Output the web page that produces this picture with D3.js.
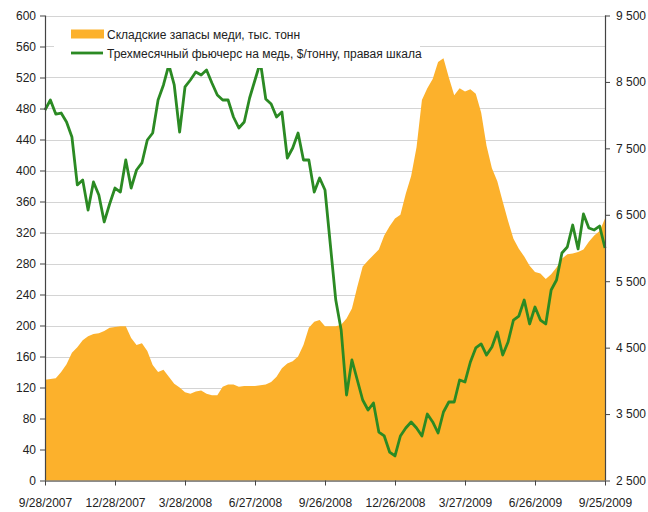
<!DOCTYPE html>
<html>
<head>
<meta charset="utf-8">
<script src="https://cdn.jsdelivr.net/npm/d3@7"></script>
<style>
  body { margin: 0; background: #fff; }
  svg { font-family: "Liberation Sans", Arial, sans-serif; }
</style>
</head>
<body>
<svg id="chart" width="648" height="512"></svg>
<script>
// weekly observations, first one on 9/28/2007
const startDate = new Date(2007, 8, 28);

// warehouse copper stocks, thousand tonnes (left axis)
const stocks = [
  130, 131, 132, 140, 150, 165, 172, 181, 186, 189,
  190, 193, 197, 198, 199, 199, 184, 175, 177, 167,
  149, 140, 143, 134, 125, 120, 114, 112, 115, 116,
  112, 110, 110, 121, 124, 124, 121, 122, 122, 122,
  123, 124, 127, 134, 145, 151, 154, 160, 175, 197,
  205, 207, 199, 199, 199, 201, 209, 222, 250, 276,
  284, 291, 298, 316, 328, 338, 343, 370, 393, 430,
  491, 506, 518, 540, 545, 520, 497, 506, 502, 505,
  499, 475, 432, 403, 386, 360, 335, 312, 299, 289,
  277, 269, 267, 260, 266, 275, 286, 292, 293, 295,
  298, 308, 316, 322, 338
];

// 3-month copper futures, $/tonne (right axis)
const futures = [
  8078, 8228, 8017, 8032, 7897, 7671, 6949, 7024, 6572, 6994,
  6798, 6392, 6662, 6903, 6843, 7325, 6903, 7174, 7280, 7626,
  7731, 8228, 8454, 8755, 8454, 7746, 8424, 8529, 8650, 8604,
  8680, 8484, 8303, 8228, 8228, 7972, 7807, 7897, 8258, 8529,
  8800, 8243, 8168, 7972, 8047, 7355, 7505, 7731, 7325, 7325,
  6843, 7054, 6873, 6045, 5217, 4766, 3787, 4314, 4013, 3712,
  3561, 3667, 3230, 3170, 2929, 2869, 3170, 3290, 3381, 3290,
  3170, 3501, 3381, 3215, 3531, 3682, 3682, 4013, 3983, 4284,
  4495, 4555, 4389, 4510, 4736, 4389, 4585, 4916, 4976, 5217,
  4856, 5112, 4916, 4856, 5368, 5518, 5925, 6015, 6346, 5985,
  6512, 6301, 6271, 6331, 6000
];

const xTickLabels = ["9/28/2007", "12/28/2007", "3/28/2008", "6/27/2008", "9/26/2008",
  "12/26/2008", "3/27/2009", "6/26/2009", "9/25/2009"];
const leftTicks = d3.range(0, 601, 40);
const rightTicks = [2500, 3500, 4500, 5500, 6500, 7500, 8500, 9500];
const legendLabels = ["Складские запасы меди, тыс. тонн",
  "Трехмесячный фьючерс на медь, $/тонну, правая шкала"];

const parseDate = d3.timeParse("%m/%d/%Y");
const dates = stocks.map((d, i) => d3.timeDay.offset(startDate, i * 7));

const plotLeft = 45, plotRight = 605, plotTop = 15.5, plotBottom = 480.5;

const svg = d3.select("#chart");

const x = d3.scaleTime()
  .domain([startDate, dates[dates.length - 1]])
  .range([plotLeft, plotRight]);
const yL = d3.scaleLinear().domain([0, 600]).range([plotBottom, plotTop]);
const yR = d3.scaleLinear().domain([2500, 9500]).range([plotBottom, plotTop]);

// gridlines
svg.append("g")
  .selectAll("line")
  .data(leftTicks)
  .enter()
  .append("line")
  .attr("x1", plotLeft)
  .attr("x2", plotRight)
  .attr("y1", d => Math.round(yL(d)) + 0.5)
  .attr("y2", d => Math.round(yL(d)) + 0.5)
  .attr("stroke", "#d4d4d4")
  .attr("stroke-width", 1.2);

// stocks area
const area = d3.area()
  .x((d, i) => x(dates[i]))
  .y0(yL(0))
  .y1(d => yL(d));

svg.append("path")
  .datum(stocks)
  .attr("d", area)
  .attr("fill", "#fcb12c");

// futures line
const line = d3.line()
  .x((d, i) => x(dates[i]))
  .y(d => yR(d));

svg.append("path")
  .datum(futures)
  .attr("d", line)
  .attr("fill", "none")
  .attr("stroke", "#2b8a23")
  .attr("stroke-width", 2.8)
  .attr("stroke-linejoin", "round");

// axes
const axisColor = "#444";
const leftAxis = svg.append("g")
  .attr("transform", `translate(${plotLeft},0)`)
  .call(d3.axisLeft(yL).tickValues(leftTicks).tickSize(5).tickPadding(4));

const rightAxis = svg.append("g")
  .attr("transform", `translate(${plotRight},0)`)
  .call(d3.axisRight(yR).tickValues(rightTicks).tickSize(5).tickPadding(6)
    .tickFormat(d => d3.format(",")(d).replace(",", " ")));

const bottomAxis = svg.append("g")
  .attr("transform", `translate(0,${plotBottom})`)
  .call(d3.axisBottom(x).tickValues(xTickLabels.map(parseDate)).tickSize(5).tickPadding(13)
    .tickFormat((d, i) => xTickLabels[i]));

[leftAxis, rightAxis, bottomAxis].forEach(g => {
  g.select(".domain").attr("stroke", axisColor).attr("stroke-width", 1.2);
  g.selectAll(".tick line").attr("stroke", axisColor);
  g.selectAll("text")
    .attr("fill", "#222")
    .style("font-size", "12px")
    .style("font-family", "'Liberation Sans', Arial, sans-serif");
});
leftAxis.select(".domain").attr("d", `M0.5,${plotTop}V${plotBottom}`);
rightAxis.select(".domain").attr("d", `M0.5,${plotTop}V${plotBottom}`);
bottomAxis.select(".domain").attr("d", `M${plotLeft},0.5H${plotRight}`);

// legend
const legend = svg.append("g");
legend.append("rect")
  .attr("x", 54).attr("y", 22)
  .attr("width", 366).attr("height", 46)
  .attr("fill", "#fff");
legend.append("rect")
  .attr("x", 71).attr("y", 29.5)
  .attr("width", 33).attr("height", 9)
  .attr("fill", "#fcb12c");
legend.append("line")
  .attr("x1", 71).attr("x2", 103)
  .attr("y1", 53).attr("y2", 53)
  .attr("stroke", "#2b8a23")
  .attr("stroke-width", 2.8);
legend.selectAll("text")
  .data(legendLabels)
  .enter()
  .append("text")
  .attr("x", 107)
  .attr("y", (d, i) => 38.5 + i * 19)
  .attr("fill", "#222")
  .style("font-size", "12px")
  .text(d => d);
</script>
</body>
</html>
